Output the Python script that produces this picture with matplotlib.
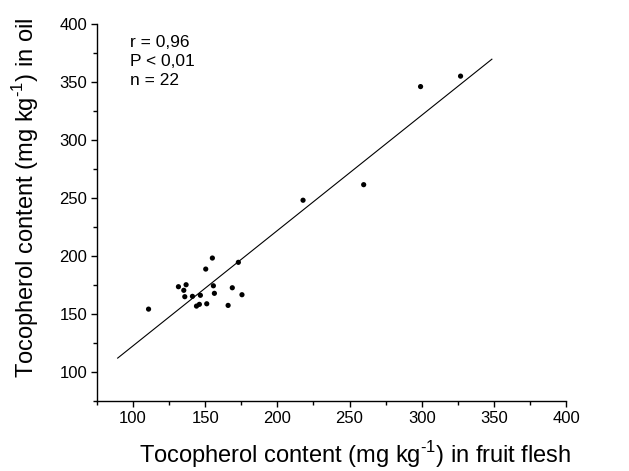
"""Tocopherol in oil vs fruit flesh, scatter with regression line."""
import matplotlib
matplotlib.use("Agg")
import matplotlib.pyplot as plt
from matplotlib.ticker import MultipleLocator

plt.rcParams["font.family"] = ["Liberation Sans", "DejaVu Sans"]
plt.rcParams["mathtext.fontset"] = "custom"
plt.rcParams["mathtext.rm"] = "Liberation Sans"

# values
flesh = [110.8, 131.5, 136.8, 135.2, 135.9, 141.2, 146.7, 144.0, 146.0, 151.1, 150.4,
         155.0, 155.7, 156.4, 173.0, 168.8, 175.5, 165.9, 217.8, 259.8, 299.2, 326.9]
oil = [154.0, 173.3, 175.0, 170.2, 164.7, 165.0, 165.9, 156.6, 158.1, 158.6, 188.5,
       198.0, 174.1, 167.6, 194.3, 172.4, 166.4, 157.2, 247.8, 261.2, 345.7, 354.7]
fit_x = [89.4, 348.6]
fit_y = [111.8, 369.3]
stats = ["r = 0,96", "P < 0,01", "n = 22"]

fig = plt.figure(figsize=(6.29, 4.71), dpi=100)
ax = fig.add_axes([0.154, 0.149, 0.746, 0.801])

ax.plot(fit_x, fit_y, color="black", lw=0.8)
ax.scatter(flesh, oil, s=14, color="black", edgecolors="none", zorder=3)

ax.set_xlim(75, 400)
ax.set_ylim(75, 400)
ax.xaxis.set_minor_locator(MultipleLocator(25))
ax.yaxis.set_minor_locator(MultipleLocator(25))
ax.set_xticks([100, 150, 200, 250, 300, 350, 400])
ax.set_yticks([100, 150, 200, 250, 300, 350, 400])
ax.spines[["top", "right"]].set_visible(False)
for s in ["left", "bottom"]:
    ax.spines[s].set_linewidth(1.0)
ax.tick_params(which="major", direction="out", length=4, width=1, labelsize=12, pad=3)
ax.tick_params(which="minor", direction="out", length=3, width=1)

sup = "$^{\\text{-1}}$"
ax.set_xlabel(f"Tocopherol content (mg kg{sup}) in fruit flesh", fontsize=17)
ax.set_ylabel(f"Tocopherol content (mg kg{sup}) in oil", fontsize=17)
ax.xaxis.set_label_coords(0.55, -0.143)
ax.xaxis.label.set_va("center")
ax.yaxis.set_label_coords(-0.153, 0.538)
ax.yaxis.label.set_va("center")

for i, txt in enumerate(stats):
    ax.text(0.07, 0.95 - i * 0.05, txt, transform=ax.transAxes,
            fontsize=12.5, va="center", ha="left")

fig.savefig("out.png", dpi=100)
